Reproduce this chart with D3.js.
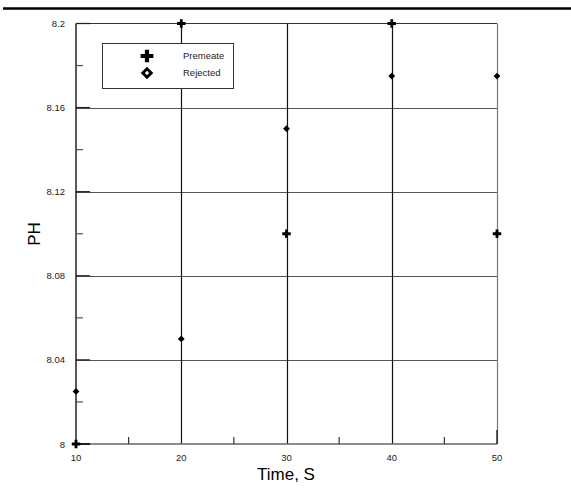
<!DOCTYPE html>
<html><head><meta charset="utf-8">
<script src="https://cdn.jsdelivr.net/npm/d3@7"></script>
<style>body{margin:0;background:#fff}svg{display:block}text{font-family:"Liberation Sans",Arial,sans-serif}</style>
</head><body><svg id="c" width="571" height="488"></svg>
<script>
const times = [10, 20, 30, 40, 50];
const premeate = [8.0, 8.2, 8.1, 8.2, 8.1];
const rejected = [8.025, 8.05, 8.15, 8.175, 8.175];
const xTicks = [10, 20, 30, 40, 50];
const yTicks = [8, 8.04, 8.08, 8.12, 8.16, 8.2];
const yTickLabels = ["8", "8.04", "8.08", "8.12", "8.16", "8.2"];
const xMinor = [15, 25, 35, 45];
const yMinor = [8.02, 8.06, 8.10, 8.14, 8.18];

const svg = d3.select("#c");
const L = 76, R = 497, T = 23.5, B = 444;
const x = d3.scaleLinear().domain([10, 50]).range([L, R]);
const y = d3.scaleLinear().domain([8, 8.2]).range([B, T]);

// top rule
svg.append("line").attr("x1", 3).attr("x2", 571).attr("y1", 8.5).attr("y2", 8.5).attr("stroke", "#000").attr("stroke-width", 2.5);

// horizontal gridlines
svg.append("g").selectAll("line").data(yTicks.slice(1, -1)).join("line")
  .attr("x1", L).attr("x2", R).attr("y1", d => Math.round(y(d)) + 0.5).attr("y2", d => Math.round(y(d)) + 0.5)
  .attr("stroke", "#555").attr("stroke-width", 1.2);
// top border
svg.append("line").attr("x1", L).attr("x2", R).attr("y1", y(8.2)).attr("y2", y(8.2)).attr("stroke", "#333").attr("stroke-width", 1.2);
// vertical gridlines
svg.append("g").selectAll("line").data(xTicks.slice(1)).join("line")
  .attr("x1", d => Math.round(x(d)) + 0.5).attr("x2", d => Math.round(x(d)) + 0.5).attr("y1", T).attr("y2", B)
  .attr("stroke", d => d === 50 ? "#777" : "#111").attr("stroke-width", 1.2);
// bottom axis
svg.append("line").attr("x1", L).attr("x2", R).attr("y1", B).attr("y2", B).attr("stroke", "#666").attr("stroke-width", 1.3);
// left axis
svg.append("line").attr("x1", L).attr("x2", L).attr("y1", T).attr("y2", B).attr("stroke", "#000").attr("stroke-width", 1.3);

// y major tick stubs and minor ticks
svg.append("g").selectAll("line").data(yTicks).join("line")
  .attr("x1", L).attr("x2", L + 14).attr("y1", d => y(d)).attr("y2", d => y(d)).attr("stroke", "#222").attr("stroke-width", 1.3);
svg.append("g").selectAll("line").data(yMinor).join("line")
  .attr("x1", L).attr("x2", L + 7).attr("y1", d => y(d)).attr("y2", d => y(d)).attr("stroke", "#555").attr("stroke-width", 1.2);
svg.append("g").selectAll("line").data(xMinor).join("line")
  .attr("x1", d => x(d)).attr("x2", d => x(d)).attr("y1", B).attr("y2", B - 7).attr("stroke", "#333").attr("stroke-width", 1.2);
svg.append("line").attr("x1", x(50)).attr("x2", x(50)).attr("y1", B).attr("y2", B - 14).attr("stroke", "#222").attr("stroke-width", 1.4);
svg.append("line").attr("x1", L).attr("x2", L + 14).attr("y1", B).attr("y2", B).attr("stroke", "#111").attr("stroke-width", 1.6);

// tick labels
svg.append("g").selectAll("text").data(yTicks).join("text")
  .attr("x", L - 11).attr("y", d => y(d) + 3.5).attr("text-anchor", "end").attr("font-size", 9.5).attr("fill", "#222")
  .text((d, i) => yTickLabels[i]);
svg.append("g").selectAll("text").data(xTicks).join("text")
  .attr("x", d => x(d)).attr("y", B + 17).attr("text-anchor", "middle").attr("font-size", 9.5).attr("fill", "#222")
  .text(d => d);

// axis titles
svg.append("text").attr("x", 286).attr("y", 480).attr("text-anchor", "middle").attr("font-size", 17).text("Time, S");
svg.append("text").attr("transform", "translate(40,234) rotate(-90)").attr("text-anchor", "middle").attr("font-size", 17).text("PH");

// markers
const plus = d3.symbol().type(d3.symbolCross).size(40);
const diamond = d3.symbol().type(d3.symbolDiamond2).size(30);
svg.append("g").selectAll("path").data(times.map((t, i) => [t, rejected[i]])).join("path")
  .attr("d", diamond).attr("transform", d => `translate(${x(d[0])},${y(d[1])})`).attr("fill", "#000");
svg.append("g").selectAll("path").data(times.map((t, i) => [t, premeate[i]])).join("path")
  .attr("d", plus).attr("transform", d => `translate(${x(d[0])},${y(d[1])})`).attr("fill", "#000");

// legend
svg.append("rect").attr("x", 102.5).attr("y", 43.5).attr("width", 131).attr("height", 45).attr("fill", "#fff").attr("stroke", "#333").attr("stroke-width", 1);
svg.append("path").attr("d", d3.symbol().type(d3.symbolCross).size(90)).attr("transform", "translate(147,56)").attr("fill", "#000");
svg.append("path").attr("d", d3.symbol().type(d3.symbolDiamond2).size(45)).attr("transform", "translate(147,73)").attr("fill", "#fff").attr("stroke", "#000").attr("stroke-width", 3);
svg.append("text").attr("x", 183).attr("y", 59).attr("font-size", 9.5).attr("fill", "#222").text("Premeate");
svg.append("text").attr("x", 183).attr("y", 76).attr("font-size", 9.5).attr("fill", "#222").text("Rejected");
</script></body></html>
